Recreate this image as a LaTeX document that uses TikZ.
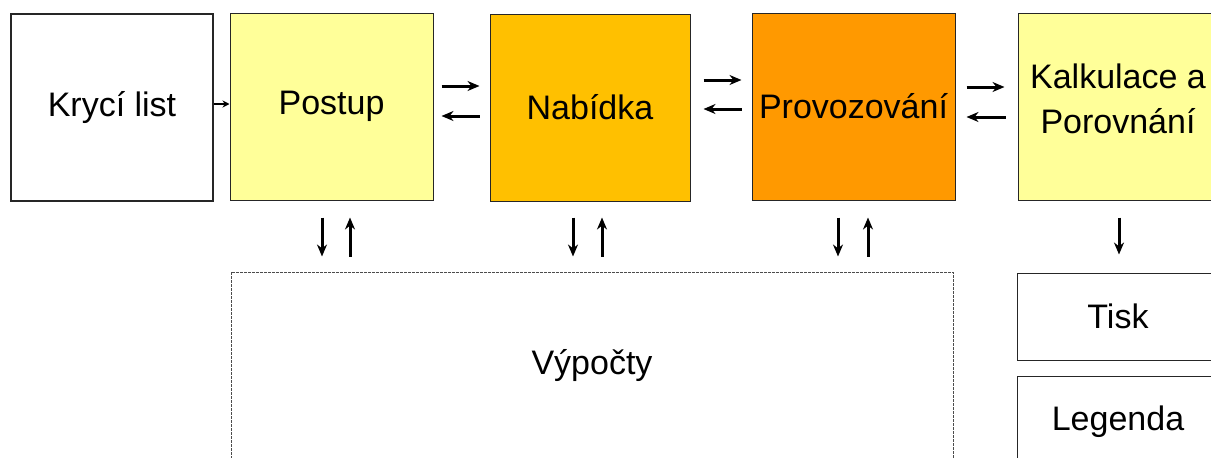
\documentclass[tikz,border=0pt]{standalone}
\usepackage{fontspec}
\setmainfont{Liberation Sans}
\usepackage{tikz}
\usetikzlibrary{arrows,arrows.meta,shapes,positioning}
\usepackage{xcolor}
\definecolor{pslightyellow}{RGB}{255,255,153}
\definecolor{psgold}{RGB}{255,192,0}
\definecolor{psorange}{RGB}{255,153,0}
\tikzstyle{flowarrow} = [draw=black, line width=3pt, -{Stealth[length=12pt,width=10pt]}]
\tikzstyle{sheet} = [rectangle, minimum width=202pt, minimum height=187pt, text centered, draw=black!85, line width=1pt, inner sep=0pt, font=\fontsize{34}{37}\selectfont]

\begin{document}
\begin{tikzpicture}[x=1pt, y=-1pt]
\useasboundingbox (0,0) rectangle (1211,458);
\clip (0,0) rectangle (1211,458);
% Top row
\node[sheet, fill=white, line width=1.8pt] (kryci) at (112,107.5) {Krycí list};
\node[sheet, minimum width=203pt, fill=pslightyellow] (postup) at (331.5,106.5) {Postup};
\node[sheet, minimum width=200pt, fill=psgold] (nabidka) at (590,107.5) {\raisebox{-4pt}{Nabídka}};
\node[sheet, minimum width=203pt, fill=psorange] (provoz) at (853.5,106.5) {Provozování};
\node[sheet, minimum width=200pt, fill=pslightyellow, align=center, font=\fontsize{34}{45}\selectfont, text depth=16pt] (kalk) at (1118,106.5) {Kalkulace a\\Porovnání};

% Bottom row
\node[sheet, minimum width=722pt, minimum height=188pt, draw=black!70, line width=0.6pt, dash pattern=on 3pt off 1pt] (vypocty) at (592,366) {Výpočty};
\node[sheet, minimum height=87pt, fill=white] (tisk) at (1118,316.5) {Tisk};
\node[sheet, minimum height=92pt, fill=white] (legenda) at (1118,422) {Legenda};

% Arrows
\draw[flowarrow, line width=2pt, -{Stealth[length=7pt,width=7pt]}] ([yshift=3.5pt]kryci.east) -- ([yshift=2.5pt]postup.west);
\draw[flowarrow] ([xshift=8pt,yshift=20.5pt]postup.east) -- ([xshift=-10pt,yshift=21.5pt]nabidka.west);
\draw[flowarrow] ([xshift=-10pt,yshift=-8.5pt]nabidka.west) -- ([xshift=8pt,yshift=-9.5pt]postup.east);
\draw[flowarrow] ([xshift=13pt,yshift=27.5pt]nabidka.east) -- ([xshift=-10pt,yshift=26.5pt]provoz.west);
\draw[flowarrow] ([xshift=-10pt,yshift=-2.5pt]provoz.west) -- ([xshift=13pt,yshift=-1.5pt]nabidka.east);
\draw[flowarrow] ([xshift=11pt,yshift=19.5pt]provoz.east) -- ([xshift=-13pt,yshift=19.5pt]kalk.west);
\draw[flowarrow] ([xshift=-12pt,yshift=-10.5pt]kalk.west) -- ([xshift=11pt,yshift=-10.5pt]provoz.east);

\draw[flowarrow] ([xshift=-9.5pt,yshift=-17pt]postup.south) -- ([xshift=-9.5pt,yshift=-56pt]postup.south);
\draw[flowarrow] ([xshift=18.5pt,yshift=-56pt]postup.south) -- ([xshift=18.5pt,yshift=-17pt]postup.south);
\draw[flowarrow] ([xshift=-17pt,yshift=-16pt]nabidka.south) -- ([xshift=-17pt,yshift=-55pt]nabidka.south);
\draw[flowarrow] ([xshift=12pt,yshift=-55pt]nabidka.south) -- ([xshift=12pt,yshift=-16pt]nabidka.south);
\draw[flowarrow] ([xshift=-15.5pt,yshift=-17pt]provoz.south) -- ([xshift=-15.5pt,yshift=-56pt]provoz.south);
\draw[flowarrow] ([xshift=14.5pt,yshift=-56pt]provoz.south) -- ([xshift=14.5pt,yshift=-17pt]provoz.south);
\draw[flowarrow] ([xshift=1pt,yshift=-17pt]kalk.south) -- ([xshift=1pt,yshift=18pt]tisk.north);
\end{tikzpicture}
\end{document}
